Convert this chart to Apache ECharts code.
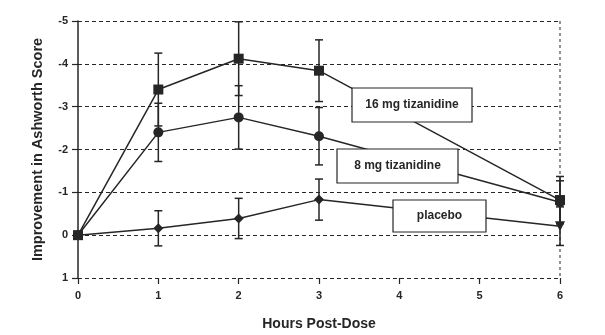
<!DOCTYPE html>
<html>
<head>
<meta charset="utf-8">
<script src="https://cdn.jsdelivr.net/npm/echarts@6/dist/echarts.min.js"></script>
<style>html,body{margin:0;padding:0;background:#fff}#c{width:605px;height:335px}</style>
</head>
<body>
<div id="c"></div>
<script>
const hours = [0, 1, 2, 3, 6];
const mg16 = [0, -3.4, -4.12, -3.84, -0.82];
const mg16Err = [0, 0.85, 0.86, 0.72, 0.55];
const mg8 = [0, -2.4, -2.75, -2.31, -0.77];
const mg8Err = [0, 0.68, 0.74, 0.67, 0.5];
const placebo = [0, -0.16, -0.39, -0.83, -0.21];
const placeboErr = [0, 0.41, 0.47, 0.48, 0.45];
const yTicks = [-5, -4, -3, -2, -1, 0, 1];
const xTicks = [0, 1, 2, 3, 4, 5, 6];
const labels = ['16 mg tizanidine', '8 mg tizanidine', 'placebo'];

const C = '#262626';
const font = '"Liberation Sans", Arial, sans-serif';

function pts(vals) { return hours.map((h, i) => [h, vals[i]]); }
function errs(vals, e) { return hours.map((h, i) => [h, vals[i] - e[i], vals[i] + e[i]]).filter((d, i) => e[i] > 0); }

function errSeries(data) {
  return {
    type: 'custom',
    data: data,
    z: 2,
    renderItem: function (params, api) {
      const x = api.value(0);
      const lo = api.coord([x, api.value(1)]);
      const hi = api.coord([x, api.value(2)]);
      const w = 4;
      const st = { stroke: C, lineWidth: 1.5 };
      return {
        type: 'group',
        children: [
          { type: 'line', shape: { x1: lo[0], y1: lo[1], x2: hi[0], y2: hi[1] }, style: st },
          { type: 'line', shape: { x1: lo[0] - w, y1: lo[1], x2: lo[0] + w, y2: lo[1] }, style: st },
          { type: 'line', shape: { x1: hi[0] - w, y1: hi[1], x2: hi[0] + w, y2: hi[1] }, style: st }
        ]
      };
    }
  };
}

function lineSeries(name, vals, symbol, size) {
  return {
    name: name, type: 'line', data: pts(vals), symbol: symbol, symbolSize: size,
    lineStyle: { color: C, width: 1.5 }, itemStyle: { color: C }, z: 3, animation: false
  };
}

const placeboSym = hours.map((h, i) => i === hours.length - 1 ? 'triangle' : 'diamond');

const chart = echarts.init(document.getElementById('c'));
const option = {
  animation: false,
  backgroundColor: '#fff',
  grid: { left: 78, right: 45, top: 21, bottom: 57, show: false, containLabel: false, outerBoundsMode: 'none' },
  xAxis: {
    type: 'value', min: 0, max: 6, interval: 1,
    name: 'Hours Post-Dose', nameLocation: 'middle', nameGap: 39,
    nameTextStyle: { fontFamily: font, fontWeight: 'bold', fontSize: 14, color: C },
    axisLine: { show: false, onZero: false },
    axisTick: { show: true, length: 6, lineStyle: { color: C, width: 1.2 } },
    axisLabel: { fontFamily: font, fontWeight: 'bold', fontSize: 11, color: C, margin: 12,
      formatter: v => xTicks.includes(v) ? String(v) : '' },
    splitLine: { show: false }
  },
  yAxis: {
    type: 'value', min: -5, max: 1, interval: 1, inverse: true,
    name: 'Improvement in Ashworth Score', nameLocation: 'middle', nameGap: 33,
    nameTextStyle: { fontFamily: font, fontWeight: 'bold', fontSize: 14.5, color: C },
    axisLine: { show: true, onZero: false, lineStyle: { color: C, width: 1.5 } },
    axisTick: { show: true, length: 6, lineStyle: { color: C, width: 1.2 } },
    axisLabel: { fontFamily: font, fontWeight: 'bold', fontSize: 11, color: C, margin: 10,
      formatter: v => yTicks.includes(v) ? String(v) : '' },
    splitLine: { show: true, lineStyle: { color: C, type: [4, 3], width: 1 } }
  },
  series: [
    errSeries(errs(placebo, placeboErr)),
    errSeries(errs(mg8, mg8Err)),
    errSeries(errs(mg16, mg16Err)),
    {
      type: 'line', data: [[6, -5], [6, 1]], symbol: 'none', silent: true, z: 1,
      lineStyle: { color: C, type: [3, 3], width: 1 }
    },
    Object.assign(lineSeries(labels[2], placebo, 'diamond', 10), {
      data: pts(placebo).map((p, i) => ({ value: p, symbol: placeboSym[i], symbolRotate: i === hours.length - 1 ? 180 : 0, symbolSize: 10 }))
    }),
    lineSeries(labels[1], mg8, 'circle', 10),
    lineSeries(labels[0], mg16, 'rect', 10)
  ]
};
chart.setOption(option);

function box(text, x, y, w, h) {
  return {
    type: 'group', x: x, y: y, z: 100,
    children: [
      { type: 'rect', shape: { x: 0, y: 0, width: w, height: h }, style: { fill: '#fff', stroke: C, lineWidth: 1.2 }, z: 100 },
      { type: 'text', x: w / 2, y: h / 2, style: { text: text, fill: C, font: 'bold 12px ' + font, textAlign: 'center', textVerticalAlign: 'middle' }, z: 101 }
    ]
  };
}
chart.setOption({
  graphic: [
    box(labels[0], 352, 88, 120, 34),
    box(labels[1], 337, 149, 121, 34),
    box(labels[2], 393, 200, 93, 32)
  ]
});
</script>
</body>
</html>
